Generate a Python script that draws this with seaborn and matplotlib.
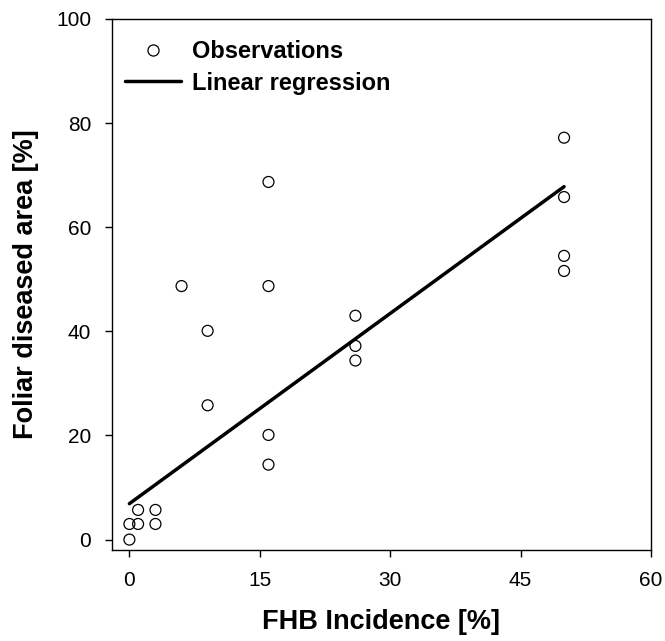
import numpy as np
import pandas as pd
import matplotlib
matplotlib.use("Agg")
import matplotlib.pyplot as plt
import seaborn as sns
from matplotlib.lines import Line2D

# Observations
fhb_incidence = [0, 0, 1, 1, 3, 3, 6, 9, 9, 16, 16, 16, 16, 26, 26, 26, 50, 50, 50, 50]
foliar_area = [0, 3, 3, 5.7, 3, 5.7, 48.7, 40.1, 25.8, 68.7, 48.7, 20.1, 14.4,
               43.0, 37.2, 34.4, 77.2, 65.8, 54.5, 51.6]

# Linear regression drawn in the chart
reg_intercept = 6.9
reg_slope = 1.218
reg_x = [0, 50]

x_ticks = [0, 15, 30, 45, 60]
y_ticks = [0, 20, 40, 60, 80, 100]

sns.set_theme(style="ticks")
plt.rcParams['font.family'] = ['Liberation Sans', 'DejaVu Sans']
plt.rcParams['text.color'] = 'black'
plt.rcParams['axes.labelcolor'] = 'black'

df = pd.DataFrame({"x": fhb_incidence, "y": foliar_area})
reg_df = pd.DataFrame({"x": reg_x, "y": [reg_intercept + reg_slope * v for v in reg_x]})

fig = plt.figure(figsize=(6.65, 6.41), dpi=100)
ax = fig.add_axes([112 / 665, 1 - 550 / 641, (651 - 112) / 665, (550 - 19) / 641])

sns.lineplot(data=reg_df, x="x", y="y", ax=ax, color="black", linewidth=2.5, zorder=2)
sns.scatterplot(data=df, x="x", y="y", ax=ax, s=62, facecolor="none",
                edgecolor="black", linewidth=0.9, zorder=3)

ax.set_xlim(-2, 60)
ax.set_ylim(-2, 100)
ax.set_xticks(x_ticks)
ax.set_yticks(y_ticks)
ax.tick_params(axis="both", direction="out", length=5, width=1, labelsize=15,
               colors="black")
ax.tick_params(axis="x", pad=10)
ax.tick_params(axis="y", pad=10)
for s in ax.spines.values():
    s.set_color("black")
    s.set_linewidth(1)

ax.set_xlabel("FHB Incidence [%]", fontsize=19.5, fontweight="bold", labelpad=14)
ax.set_ylabel("Foliar diseased area [%]", fontsize=19.5, fontweight="bold", labelpad=12)

handles = [
    Line2D([], [], marker="o", linestyle="none", markerfacecolor="none",
           markeredgecolor="black", markersize=8, markeredgewidth=0.9),
    Line2D([], [], color="black", linewidth=2.5),
]
ax.legend(handles, ["Observations", "Linear regression"], loc="upper left",
          frameon=False, prop={"weight": "bold", "size": 17},
          bbox_to_anchor=(-0.016, 1.0), handlelength=2.4, handletextpad=0.45,
          labelspacing=0.35)

fig.savefig("out.png", dpi=100)
